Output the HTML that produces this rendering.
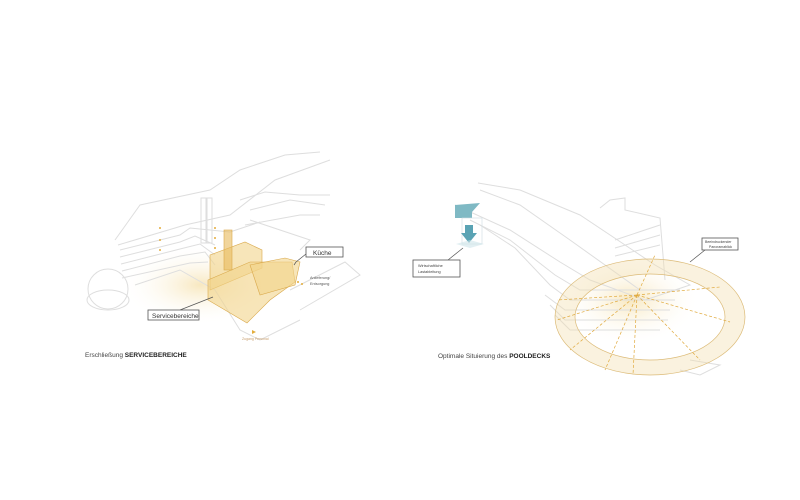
<!DOCTYPE html>
<html><head><meta charset="utf-8"><style>
html,body{margin:0;padding:0;background:#fff;}
svg{display:block;font-family:"Liberation Sans",sans-serif;}
</style></head><body>
<svg width="800" height="500" viewBox="0 0 800 500" xmlns="http://www.w3.org/2000/svg">
<defs>
<radialGradient id="glow" cx="0.5" cy="0.5" r="0.5"><stop offset="0" stop-color="#f6e2b0" stop-opacity="0.8"/><stop offset="1" stop-color="#fff" stop-opacity="0"/></radialGradient>
</defs>
<rect width="800" height="500" fill="#fff"/>
<ellipse cx="200" cy="285" rx="80" ry="40" fill="url(#glow)"/>
<g fill="none" stroke="#dedede" stroke-width="1">
<polyline points="115,240 140,205 210,190 240,170 285,155 320,152"/>
<polyline points="118,245 185,225 230,215 275,180 330,160"/>
<polyline points="120,250 180,235 190,228 230,232 260,222"/>
<polyline points="120,257 180,242 195,236 215,245"/>
<polyline points="121,264 180,249 200,244 215,255"/>
<polyline points="122,271 180,256 205,252 215,265"/>
<polyline points="122,278 190,263 208,262"/>
<polyline points="135,285 180,270 215,290 240,330 260,340 300,320"/>
<polyline points="240,200 265,192 300,195 330,195"/>
<polyline points="250,210 290,200 325,205"/>
<polyline points="245,225 300,215 320,215"/>
<polyline points="250,220 310,240 300,250"/>
<polyline points="290,290 345,262 360,275 300,310"/>
<circle cx="108" cy="289" r="20"/>
<ellipse cx="108" cy="300" rx="21" ry="10"/>
<rect x="201" y="198" width="5" height="45"/>
<rect x="207" y="198" width="5" height="45"/>
</g>
<g fill="#f1d38a" fill-opacity="0.6" stroke="#d9a84a" stroke-width="0.6">
<polygon points="210,255 245,242 262,250 262,268 210,290"/>
<polygon points="208,280 250,262 292,262 295,282 270,300 247,323 208,300"/>
<polygon points="250,265 285,258 300,262 295,285 260,295"/>
<rect x="224" y="230" width="8" height="40" fill="#e8b95a"/>
</g>
<g fill="#e3ad3c"><circle cx="215" cy="228" r="1"/><circle cx="215" cy="238" r="1"/><circle cx="215" cy="248" r="1"/><circle cx="160" cy="228" r="1"/><circle cx="160" cy="240" r="1"/><circle cx="160" cy="250" r="1"/><circle cx="298" cy="282" r="1"/><circle cx="302" cy="284" r="1"/><polygon points="252,330 256,332 252,334"/></g>
<polyline points="306,254 296,262 294,265" fill="none" stroke="#555" stroke-width="0.7"/>
<rect x="306" y="247" width="37" height="10" fill="#fff" stroke="#555" stroke-width="0.8"/>
<text x="313" y="255" font-size="6.5" fill="#333">Küche</text>
<polyline points="180,310 213,297" fill="none" stroke="#555" stroke-width="0.7"/>
<rect x="148" y="310" width="51" height="10" fill="#fff" stroke="#555" stroke-width="0.8"/>
<text x="152" y="318" font-size="6.5" fill="#333">Servicebereiche</text>
<text x="310" y="279" font-size="3.8" fill="#555">Anlieferung/</text>
<text x="310" y="285" font-size="3.8" fill="#555">Entsorgung</text>
<text x="242" y="340" font-size="3.5" fill="#c9a070">Zugang Personal</text>
<text x="85" y="357" font-size="6.5" fill="#444">Erschließung <tspan font-weight="bold" fill="#222">SERVICEBEREICHE</tspan></text>

<ellipse cx="630" cy="300" rx="70" ry="45" fill="url(#glow)"/>
<g fill="none" stroke="#dedede" stroke-width="1">
<polyline points="478,183 520,190 580,215 655,265 690,285 645,300"/>
<polyline points="480,190 520,205 570,240 640,290"/>
<polyline points="455,205 510,230 560,262 590,280 645,300"/>
<polyline points="470,220 510,240 555,275 580,290 680,290"/>
<polyline points="480,225 515,248 550,285 570,300 675,300"/>
<polyline points="545,295 565,310 670,310"/>
<polyline points="550,305 565,320 668,320"/>
<polyline points="555,315 570,330 660,330"/>
<polyline points="600,208 610,200 625,198 625,210 660,218 665,280"/>
<polyline points="615,240 660,225"/>
<polyline points="615,248 660,235"/>
<polyline points="615,256 660,245"/>
<polyline points="690,360 720,365 700,375 680,370"/>
</g>
<path d="M555,317 a95,58 0 1,0 190,0 a95,58 0 1,0 -190,0 Z M575,317 a75,43 0 1,1 150,0 a75,43 0 1,1 -150,0 Z" fill="#f3dfae" fill-opacity="0.4" fill-rule="evenodd" stroke="#dcbb78" stroke-width="0.7"/>
<g stroke="#e0a93c" stroke-width="0.7" stroke-dasharray="3,2" fill="none">
<line x1="637" y1="295" x2="557" y2="300"/><line x1="637" y1="295" x2="557" y2="320"/><line x1="637" y1="295" x2="570" y2="350"/><line x1="637" y1="295" x2="605" y2="370"/><line x1="637" y1="295" x2="633" y2="375"/><line x1="637" y1="295" x2="700" y2="360"/><line x1="637" y1="295" x2="730" y2="322"/><line x1="637" y1="295" x2="720" y2="287"/><line x1="637" y1="295" x2="655" y2="255"/>
</g>
<polygon points="455,205 480,203 472,212 472,218 455,218" fill="#7fb9c4"/>
<rect x="462" y="218" width="20" height="26" fill="none" stroke="#cfdde2" stroke-width="0.6"/>
<polygon points="465,225 473,225 473,233 477,233 469,243 461,233 465,233" fill="#5aa3b4"/>
<polygon points="456,244 470,240 484,244 470,248" fill="#cfe4ea" fill-opacity="0.6"/>
<polyline points="448,260 463,248" fill="none" stroke="#555" stroke-width="0.7"/>
<rect x="413" y="260" width="47" height="17" fill="#fff" stroke="#555" stroke-width="0.8"/>
<text x="418" y="267" font-size="3.8" fill="#444">Wirtschaftliche</text>
<text x="418" y="273" font-size="3.8" fill="#444">Lastableitung</text>
<polyline points="705,250 690,262" fill="none" stroke="#555" stroke-width="0.7"/>
<rect x="702" y="238" width="36" height="12" fill="#fff" stroke="#555" stroke-width="0.8"/>
<text x="705" y="243" font-size="3.5" fill="#444">Beeindruckender</text>
<text x="709" y="248" font-size="3.5" fill="#444">Panoramablick</text>
<text x="438" y="358" font-size="6.5" fill="#444">Optimale Situierung des <tspan font-weight="bold" fill="#222">POOLDECKS</tspan></text>
</svg>
</body></html>
